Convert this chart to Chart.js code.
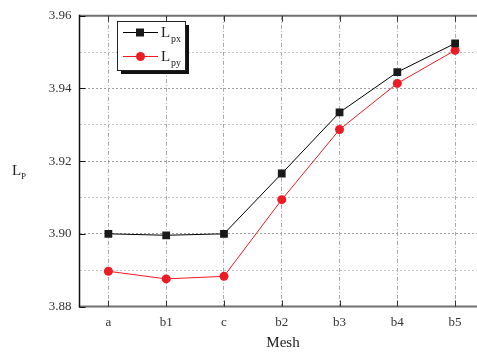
<!DOCTYPE html>
<html>
<head>
<meta charset="utf-8">
<script src="https://cdn.jsdelivr.net/npm/chart.js@4/dist/chart.umd.min.js"></script>
<style>
  html, body { margin: 0; padding: 0; background: #fff; overflow: hidden; width: 477px; height: 356px; }
  #wrap { width: 490px; height: 356px; }
</style>
</head>
<body>
<div id="wrap"><canvas id="meshChart" width="490" height="356"></canvas></div>
<script>
const categories = ['a', 'b1', 'c', 'b2', 'b3', 'b4', 'b5'];
const lpx = [3.9000, 3.8996, 3.9000, 3.9166, 3.9334, 3.9445, 3.9524];
const lpy = [3.8897, 3.8876, 3.8883, 3.9094, 3.9287, 3.9414, 3.9505];
const yGridValues = [3.88, 3.89, 3.90, 3.91, 3.92, 3.93, 3.94, 3.95, 3.96];
const yTickLabels = ['3.88', '3.90', '3.92', '3.94', '3.96'];

const serif = '"Liberation Serif", "DejaVu Serif", serif';
const red = '#ec1c24';

function isMajor(v) {
    return yTickLabels.indexOf(v.toFixed(2)) >= 0;
}

// axes frame, inward ticks, titles with subscripts and the shadowed legend
const framePlugin = {
    id: 'frame',
    afterDraw(chart) {
        const ctx = chart.ctx;
        const a = chart.chartArea;
        const x = chart.scales.x;
        const y = chart.scales.y;
        ctx.save();

        // top and bottom axes
        ctx.strokeStyle = '#707070';
        ctx.lineWidth = 2;
        ctx.beginPath();
        ctx.moveTo(a.left, a.top); ctx.lineTo(a.right + 5, a.top);
        ctx.moveTo(a.left, a.bottom); ctx.lineTo(a.right + 5, a.bottom);
        ctx.stroke();

        // category ticks, pointing inward on both sides
        ctx.strokeStyle = '#333';
        ctx.lineWidth = 1;
        ctx.beginPath();
        categories.forEach((c, i) => {
            const px = Math.round(x.getPixelForValue(i)) + 0.5;
            ctx.moveTo(px, a.bottom); ctx.lineTo(px, a.bottom - 6);
            ctx.moveTo(px, a.top); ctx.lineTo(px, a.top + 6);
        });
        ctx.stroke();

        // left axis
        ctx.strokeStyle = '#111';
        ctx.lineWidth = 1.5;
        ctx.beginPath();
        ctx.moveTo(a.left, a.top - 1); ctx.lineTo(a.left, a.bottom + 1);
        ctx.stroke();
        ctx.lineWidth = 1;
        ctx.beginPath();
        yTickLabels.forEach(t => {
            const py = Math.round(y.getPixelForValue(parseFloat(t))) + 0.5;
            ctx.moveTo(a.left, py); ctx.lineTo(a.left + 6, py);
        });
        ctx.stroke();

        // axis titles
        ctx.fillStyle = '#222';
        ctx.textBaseline = 'alphabetic';
        ctx.textAlign = 'left';
        ctx.font = '15px ' + serif;
        ctx.fillText('L', 12, 175);
        ctx.font = '9px ' + serif;
        ctx.fillText('P', 21, 179);
        ctx.textAlign = 'center';
        ctx.font = '15px ' + serif;
        ctx.fillText('Mesh', 283, 347);

        // legend box with drop shadow
        const lx = 117, ly = 21, lw = 68, lh = 49;
        ctx.fillStyle = '#111';
        ctx.fillRect(lx + 4, ly + 4, lw, lh);
        ctx.fillStyle = '#fff';
        ctx.fillRect(lx, ly, lw, lh);
        ctx.strokeStyle = '#222';
        ctx.lineWidth = 1;
        ctx.strokeRect(lx + 0.5, ly + 0.5, lw, lh);

        const entries = [
            { color: '#000', y: 32, sub: 'px', square: true },
            { color: red, y: 56, sub: 'py', square: false }
        ];
        entries.forEach(e => {
            ctx.strokeStyle = e.color;
            ctx.lineWidth = 1;
            ctx.beginPath();
            ctx.moveTo(123, e.y + 0.5); ctx.lineTo(158, e.y + 0.5);
            ctx.stroke();
            ctx.fillStyle = e.square ? '#1a1a1a' : red;
            if (e.square) {
                ctx.fillRect(136, e.y - 3.5, 8, 8);
            } else {
                ctx.beginPath();
                ctx.arc(140.5, e.y + 0.5, 4.5, 0, Math.PI * 2);
                ctx.fill();
            }
            ctx.fillStyle = '#222';
            ctx.textAlign = 'left';
            ctx.font = '15px ' + serif;
            ctx.fillText('L', 161, e.y + 5);
            ctx.font = '10px ' + serif;
            ctx.fillText(e.sub, 171, e.y + 10);
        });

        ctx.restore();
    }
};

const ctx = document.getElementById('meshChart').getContext('2d');
new Chart(ctx, {
    type: 'line',
    data: {
        labels: categories,
        datasets: [{
            label: 'Lpx',
            data: lpx,
            borderColor: '#000',
            borderWidth: 1,
            backgroundColor: '#1a1a1a',
            pointStyle: 'rect',
            pointRadius: 5.5,
            pointBorderWidth: 0,
            tension: 0
        }, {
            label: 'Lpy',
            data: lpy,
            borderColor: red,
            borderWidth: 1,
            backgroundColor: red,
            pointStyle: 'circle',
            pointRadius: 4.5,
            pointBorderWidth: 0,
            tension: 0
        }]
    },
    options: {
        responsive: false,
        animation: false,
        layout: { padding: { top: 12, right: 6, left: 0, bottom: 0 } },
        plugins: {
            legend: { display: false },
            tooltip: { enabled: false }
        },
        scales: {
            x: {
                type: 'category',
                offset: true,
                afterFit(scale) { scale.height = 49.5; },
                grid: {
                    offset: false,
                    drawTicks: false,
                    color: '#a8a8a8',
                    lineWidth: 1
                },
                border: { display: false, dash: [4, 2, 1, 2] },
                ticks: {
                    padding: 8,
                    color: '#333',
                    font: { family: serif, size: 13 }
                }
            },
            y: {
                min: 3.88,
                max: 3.96,
                afterFit(scale) { scale.width = 79.5; },
                afterBuildTicks(scale) {
                    scale.ticks = yGridValues.map(v => ({ value: v }));
                },
                grid: {
                    drawTicks: false,
                    color: c => isMajor(c.tick.value) ? '#a0a0a0' : '#c4c4c4',
                    lineWidth: 1
                },
                border: { display: false, dash: [2, 2] },
                ticks: {
                    padding: 8,
                    color: '#333',
                    autoSkip: false,
                    font: { family: serif, size: 13 },
                    callback: v => isMajor(v) ? v.toFixed(2) : ''
                }
            }
        }
    },
    plugins: [framePlugin]
});
</script>
</body>
</html>
